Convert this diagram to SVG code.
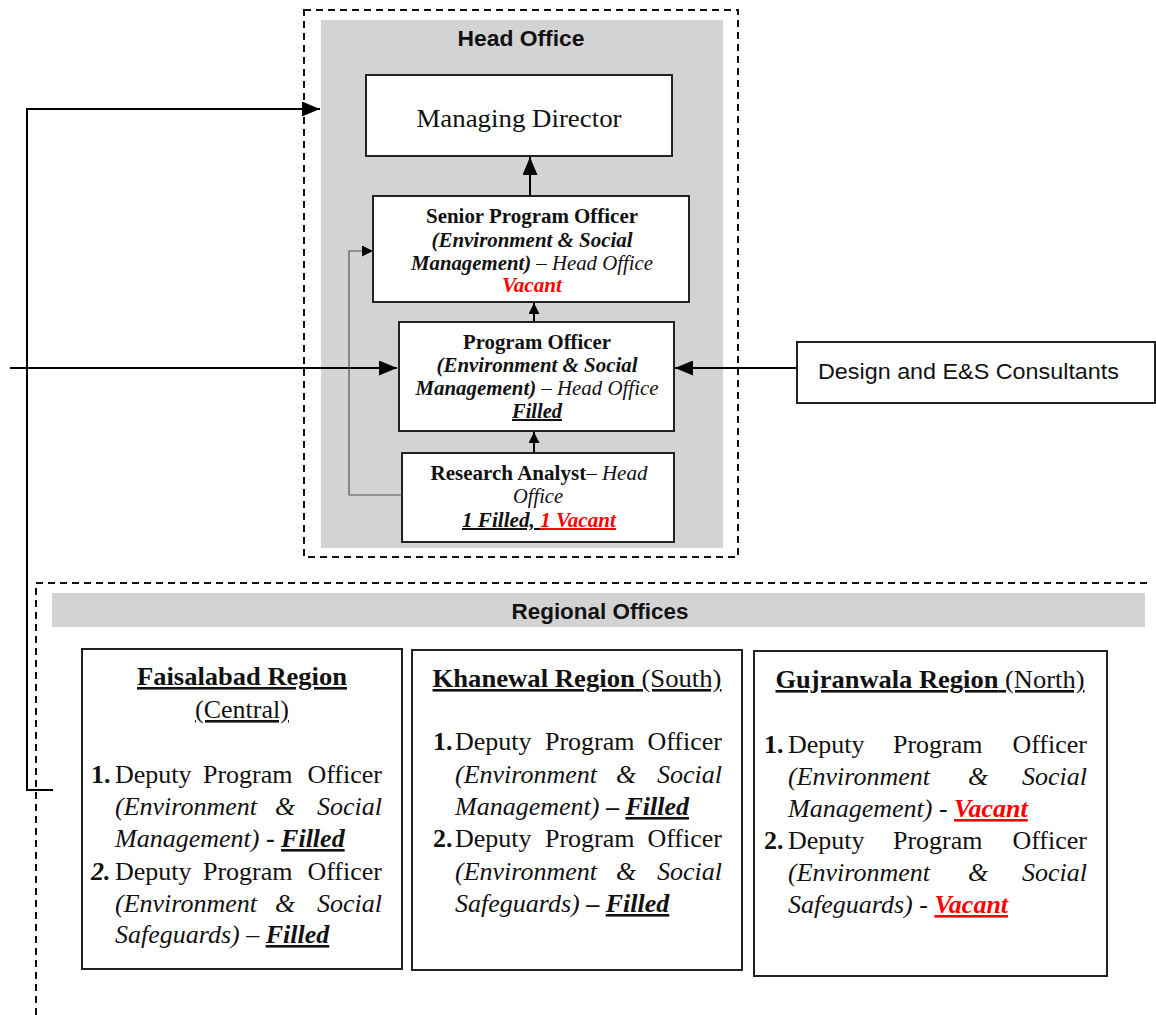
<svg xmlns="http://www.w3.org/2000/svg" width="1156" height="1015" viewBox="0 0 1156 1015">
<style>
.serif{font-family:"Liberation Serif","Times New Roman",serif;fill:#111}
.sans{font-family:"Liberation Sans",Arial,sans-serif;fill:#111}
.b{font-weight:bold}
.i{font-style:italic}
.u{text-decoration:underline}
.red{fill:#ff0000}
.box{fill:#fff;stroke:#222;stroke-width:2}
.dash{fill:none;stroke:#111;stroke-width:2;stroke-dasharray:7,5}
.conn{fill:none;stroke:#000;stroke-width:2}
.thin{fill:none;stroke:#555;stroke-width:1.2}
.h19{font-size:20px}
.s22{font-size:22px}
.r26{font-size:26px}
</style>
<defs>
<marker id="big" markerUnits="userSpaceOnUse" viewBox="0 0 18 15" refX="18" refY="7.5" markerWidth="18" markerHeight="15" orient="auto">
<path d="M0,0 L18,7.5 L0,15 z" fill="#000"/>
</marker>
<marker id="small" markerUnits="userSpaceOnUse" viewBox="0 0 11 11" refX="11" refY="5.5" markerWidth="11" markerHeight="11" orient="auto">
<path d="M0,0 L11,5.5 L0,11 z" fill="#000"/>
</marker>
</defs>
<rect width="1156" height="1015" fill="#fff"/>

<g id="head-office">
<rect x="304" y="10" width="434" height="547" class="dash"/>
<rect x="321" y="20" width="402" height="528" fill="#d3d3d3"/>
<text x="521" y="46" class="sans b s22" text-anchor="middle" textLength="127" lengthAdjust="spacingAndGlyphs">Head Office</text>
</g>

<g id="regional-offices">
<path d="M36,1015 V583 H1152" class="dash"/>
<rect x="52" y="593" width="1093" height="34" fill="#d3d3d3"/>
<text x="600" y="619" class="sans b s22" text-anchor="middle" textLength="177" lengthAdjust="spacingAndGlyphs">Regional Offices</text>
</g>

<g id="managing-director">
<rect x="366" y="75" width="306" height="81" class="box"/>
<text x="519" y="127" class="serif" font-size="25" text-anchor="middle" textLength="205" lengthAdjust="spacingAndGlyphs">Managing Director</text>
</g>

<g id="senior-program-officer">
<rect x="373" y="196" width="316" height="106" class="box"/>
<text x="532" y="223" class="serif b h19" text-anchor="middle" textLength="212" lengthAdjust="spacingAndGlyphs">Senior Program Officer</text>
<text x="532" y="247" class="serif b i h19" text-anchor="middle" textLength="201" lengthAdjust="spacingAndGlyphs">(Environment &amp; Social</text>
<text x="532" y="270" class="serif i h19" text-anchor="middle" textLength="242" lengthAdjust="spacingAndGlyphs"><tspan class="b">Management)</tspan> – Head Office</text>
<text x="532" y="292" class="serif b i h19 red" text-anchor="middle" textLength="60" lengthAdjust="spacingAndGlyphs">Vacant</text>
</g>

<g id="program-officer">
<rect x="399" y="322" width="275" height="109" class="box"/>
<text x="537" y="349" class="serif b h19" text-anchor="middle" textLength="148" lengthAdjust="spacingAndGlyphs">Program Officer</text>
<text x="537" y="372" class="serif b i h19" text-anchor="middle" textLength="201" lengthAdjust="spacingAndGlyphs">(Environment &amp; Social</text>
<text x="537" y="395" class="serif i h19" text-anchor="middle" textLength="243" lengthAdjust="spacingAndGlyphs"><tspan class="b">Management)</tspan> – Head Office</text>
<text x="537" y="418" class="serif b i u h19" text-anchor="middle" textLength="50" lengthAdjust="spacingAndGlyphs">Filled</text>
</g>

<g id="research-analyst">
<rect x="402" y="453" width="272" height="89" class="box"/>
<text x="539" y="480" class="serif h19" text-anchor="middle" textLength="217" lengthAdjust="spacingAndGlyphs"><tspan class="b">Research Analyst</tspan><tspan class="i">– Head</tspan></text>
<text x="538" y="503" class="serif i h19" text-anchor="middle" textLength="50" lengthAdjust="spacingAndGlyphs">Office</text>
<text x="539" y="527" class="serif b i h19" text-anchor="middle" textLength="154" lengthAdjust="spacingAndGlyphs"><tspan class="u">1 Filled, </tspan><tspan class="u red">1 Vacant</tspan></text>
</g>

<g id="design-consultants">
<rect x="797" y="342" width="358" height="61" class="box"/>
<text x="818" y="379" class="sans" font-size="22" textLength="301" lengthAdjust="spacingAndGlyphs">Design and E&amp;S Consultants</text>
</g>

<g id="faisalabad-region">
<rect x="82" y="649" width="320" height="320" class="box"/>
<text x="242" y="685" class="serif b u r26" text-anchor="middle" textLength="210" lengthAdjust="spacingAndGlyphs">Faisalabad Region</text>
<text x="242" y="718" class="serif u r26" text-anchor="middle">(Central)</text>
<text x="91" y="783" class="serif b r26">1.</text>
<text x="115" y="783" class="serif r26">Deputy</text>
<text x="203" y="783" class="serif r26">Program</text>
<text x="382" y="783" class="serif r26" text-anchor="end">Officer</text>
<text x="115" y="815" class="serif i r26">(Environment</text>
<text x="275" y="815" class="serif i r26">&amp;</text>
<text x="382" y="815" class="serif i r26" text-anchor="end">Social</text>
<text x="115" y="847" class="serif r26"><tspan class="i">Management)</tspan><tspan class="b"> - </tspan><tspan class="b i u">Filled</tspan></text>
<text x="91" y="880" class="serif b i r26">2.</text>
<text x="115" y="880" class="serif r26">Deputy</text>
<text x="203" y="880" class="serif r26">Program</text>
<text x="382" y="880" class="serif r26" text-anchor="end">Officer</text>
<text x="115" y="912" class="serif i r26">(Environment</text>
<text x="275" y="912" class="serif i r26">&amp;</text>
<text x="382" y="912" class="serif i r26" text-anchor="end">Social</text>
<text x="115" y="943" class="serif r26"><tspan class="i">Safeguards) – </tspan><tspan class="b i u">Filled</tspan></text>
</g>

<g id="khanewal-region">
<rect x="412" y="650" width="330" height="320" class="box"/>
<text x="577" y="687" class="serif r26" text-anchor="middle" textLength="289" lengthAdjust="spacingAndGlyphs"><tspan class="b u">Khanewal Region</tspan><tspan class="u"> (South)</tspan></text>
<text x="433" y="750" class="serif b r26">1.</text>
<text x="455" y="750" class="serif r26">Deputy</text>
<text x="545" y="750" class="serif r26">Program</text>
<text x="722" y="750" class="serif r26" text-anchor="end">Officer</text>
<text x="455" y="783" class="serif i r26">(Environment</text>
<text x="616" y="783" class="serif i r26">&amp;</text>
<text x="722" y="783" class="serif i r26" text-anchor="end">Social</text>
<text x="455" y="815" class="serif r26"><tspan class="i">Management) </tspan><tspan class="b">– </tspan><tspan class="b i u">Filled</tspan></text>
<text x="433" y="847" class="serif b r26">2.</text>
<text x="455" y="847" class="serif r26">Deputy</text>
<text x="545" y="847" class="serif r26">Program</text>
<text x="722" y="847" class="serif r26" text-anchor="end">Officer</text>
<text x="455" y="880" class="serif i r26">(Environment</text>
<text x="616" y="880" class="serif i r26">&amp;</text>
<text x="722" y="880" class="serif i r26" text-anchor="end">Social</text>
<text x="455" y="912" class="serif r26"><tspan class="i">Safeguards) </tspan><tspan class="b">– </tspan><tspan class="b i u">Filled</tspan></text>
</g>

<g id="gujranwala-region">
<rect x="754" y="651" width="353" height="325" class="box"/>
<text x="930" y="688" class="serif r26" text-anchor="middle" textLength="309" lengthAdjust="spacingAndGlyphs"><tspan class="b u">Gujranwala Region</tspan><tspan class="u"> (North)</tspan></text>
<text x="764" y="753" class="serif b r26">1.</text>
<text x="788" y="753" class="serif r26">Deputy</text>
<text x="893" y="753" class="serif r26">Program</text>
<text x="1087" y="753" class="serif r26" text-anchor="end">Officer</text>
<text x="788" y="785" class="serif i r26">(Environment</text>
<text x="968" y="785" class="serif i r26">&amp;</text>
<text x="1087" y="785" class="serif i r26" text-anchor="end">Social</text>
<text x="788" y="817" class="serif r26"><tspan class="i">Management) </tspan><tspan>- </tspan><tspan class="b i u red">Vacant</tspan></text>
<text x="764" y="849" class="serif b r26">2.</text>
<text x="788" y="849" class="serif r26">Deputy</text>
<text x="893" y="849" class="serif r26">Program</text>
<text x="1087" y="849" class="serif r26" text-anchor="end">Officer</text>
<text x="788" y="881" class="serif i r26">(Environment</text>
<text x="968" y="881" class="serif i r26">&amp;</text>
<text x="1087" y="881" class="serif i r26" text-anchor="end">Social</text>
<text x="788" y="913" class="serif r26"><tspan class="i">Safeguards) </tspan><tspan>- </tspan><tspan class="b i u red">Vacant</tspan></text>
</g>

<g id="connectors">
<path d="M53,790 H27 V109 H320" class="conn" marker-end="url(#big)"/>
<path d="M10,368 H397" class="conn" marker-end="url(#big)"/>
<path d="M797,368 H675" class="conn" marker-end="url(#big)"/>
<path d="M530,195 V157" class="conn" marker-end="url(#big)"/>
<path d="M534,322 V303" class="conn" marker-end="url(#small)"/>
<path d="M534,453 V432" class="conn" marker-end="url(#small)"/>
<path d="M402,495 H349 V251 H373" class="thin" marker-end="url(#small)"/>
</g>
</svg>
